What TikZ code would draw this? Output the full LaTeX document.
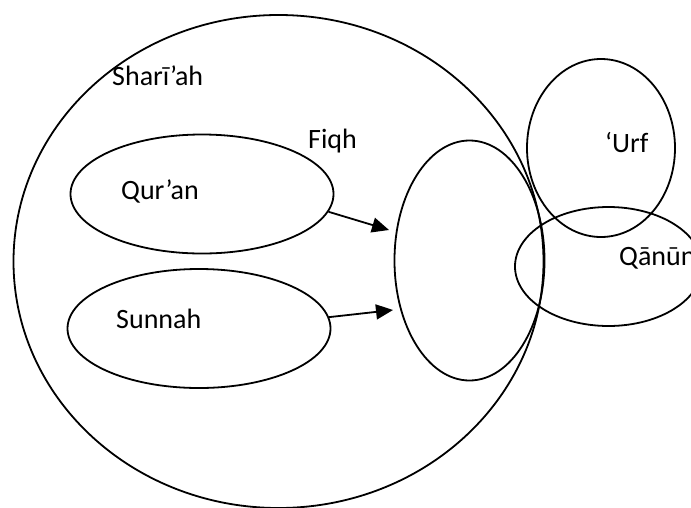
\documentclass[tikz,border=0pt]{standalone}
\usepackage{fontspec}
\setmainfont{Carlito}
\usetikzlibrary{shapes.geometric,arrows.meta}
\begin{document}
\begin{tikzpicture}[x=1pt,y=-1pt,
  ring/.style={draw,ellipse,line width=1.8pt,inner sep=0pt},
  lbl/.style={anchor=base west,inner sep=0pt,font=\fontsize{28}{30}\selectfont},
  flow/.style={line width=1.8pt,-{Triangle[length=17pt,width=15pt]}}]
\clip (0,0) rectangle (691,507);
\fill[white] (0,0) rectangle (691,507);
% outer circle and the four regions
\node[ring,minimum width=530pt,minimum height=493pt] (shariah) at (278.5,261.5) {};
\node[ring,minimum width=263pt,minimum height=119pt] (quran) at (202,194) {};
\node[ring,minimum width=263pt,minimum height=119pt] (sunnah) at (199,328.5) {};
\node[ring,minimum width=150pt,minimum height=240pt] (fiqh) at (469.5,260.5) {};
\node[ring,minimum width=148pt,minimum height=178pt] (urf) at (601,148) {};
\node[ring,minimum width=187pt,minimum height=119pt] (qanun) at (608.5,266.5) {};
% labels
\node[lbl] (tShariah) at (112,85) {Sharī’ah};
\node[lbl] (tFiqh) at (308,148) {Fiqh};
\node[lbl] (tQuran) at (121,199) {Qur’an};
\node[lbl] (tSunnah) at (116,328) {Sunnah};
\node[lbl] (tUrf) at (605,152) {‘Urf};
\node[lbl] (tQanun) at (619,265) {Qānūn};
% sources flowing into Fiqh
\coordinate (qEnd) at (389,230);
\coordinate (sEnd) at (393,310);
\draw[flow] (quran.-8) -- (qEnd);
\draw[flow] (sunnah.5) -- (sEnd);
\end{tikzpicture}
\end{document}
